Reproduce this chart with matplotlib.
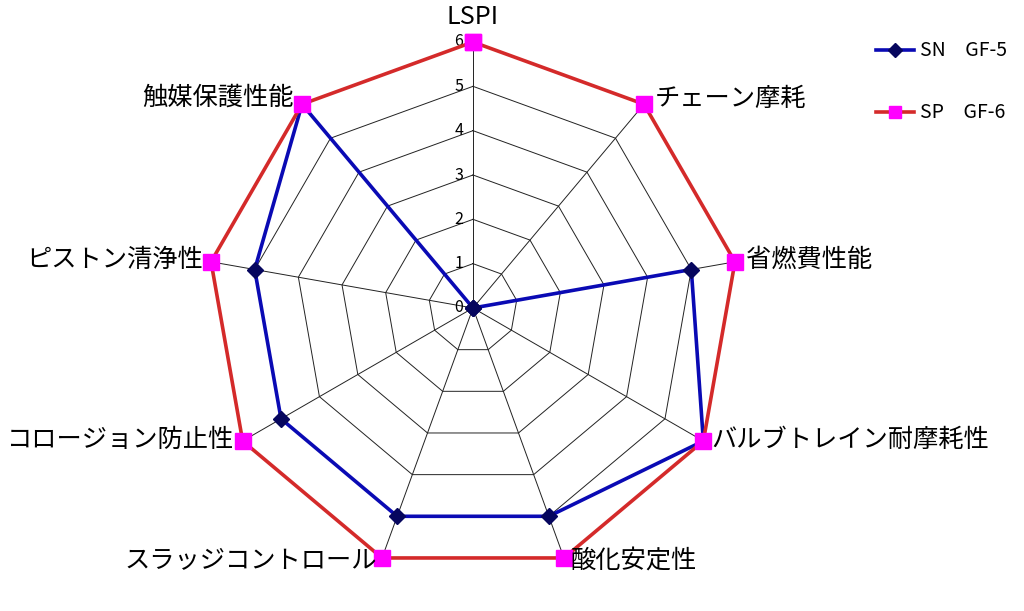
import numpy as np
import matplotlib
matplotlib.use('Agg')
import matplotlib.pyplot as plt

plt.rcParams['font.family'] = ['Noto Sans CJK JP', 'DejaVu Sans']

categories = ['LSPI', 'チェーン摩耗', '省燃費性能', 'バルブトレイン耐摩耗性', '酸化安定性',
              'スラッジコントロール', 'コロージョン防止性', 'ピストン清浄性', '触媒保護性能']
sn_gf5 = [0, 0, 5, 6, 5, 5, 5, 5, 6]
sp_gf6 = [6, 6, 6, 6, 6, 6, 6, 6, 6]
ticks = [0, 1, 2, 3, 4, 5, 6]

n = len(categories)
angles = np.arange(n) * 2 * np.pi / n   # clockwise from top


def to_xy(r, ang):
    r = np.asarray(r, dtype=float)
    return r * np.sin(ang), r * np.cos(ang)


fig = plt.figure(figsize=(10.24, 6.11), dpi=100)
ax = fig.add_axes([0, 0, 1, 1])
scale = 266 / 6.0  # px per unit
ax.set_xlim(-473 / scale, (1024 - 473) / scale)
ax.set_ylim(-303 / scale, 308 / scale)
ax.axis('off')

# polygon grid
ring_ang = np.append(angles, angles[0])
for t in ticks[1:]:
    gx, gy = to_xy(np.full(n + 1, t), ring_ang)
    ax.plot(gx, gy, color='#222222', lw=0.7, zorder=1)
for a in angles:
    sx, sy = to_xy([0, ticks[-1]], a)
    ax.plot(sx, sy, color='#222222', lw=0.7, zorder=1)

# tick labels
for t in ticks:
    ax.text(-10 / scale, t, str(t), ha='right', va='center', fontsize=11.5, zorder=2)

# series
x1, y1 = to_xy(np.append(sn_gf5, sn_gf5[0]), ring_ang)
ax.plot(x1, y1, color='#0a0ab4', lw=2.6, marker='D', markersize=8,
        markerfacecolor='#06065e', markeredgecolor='#06065e', label='SN\u3000GF-5', zorder=3)
x2, y2 = to_xy(np.append(sp_gf6, sp_gf6[0]), ring_ang)
ax.plot(x2, y2, color='#d42a2a', lw=2.6, marker='s', markersize=11,
        markerfacecolor='#ff00ff', markeredgecolor='#ff00ff', label='SP\u3000GF-6', zorder=4)

# category labels
label_pos = [
    (473, 17, 'center'), (655, 99, 'left'), (746, 260, 'left'),
    (711, 440, 'left'), (571, 562, 'left'), (377, 560, 'right'),
    (234, 440, 'right'), (203, 260, 'right'), (294, 98, 'right'),
]
for cat, (px, py, ha) in zip(categories, label_pos):
    ax.text((px - 473) / scale, (308 - py) / scale, cat, ha=ha, va='center',
            fontsize=18.2, zorder=5)

leg = ax.legend(loc='upper left', bbox_to_anchor=(858 / 1024, 1 - 23 / 611),
                frameon=False, fontsize=14, labelspacing=2.1, handlelength=2.0,
                handletextpad=0.3, markerscale=0.85)

fig.savefig('out.png', dpi=100)
